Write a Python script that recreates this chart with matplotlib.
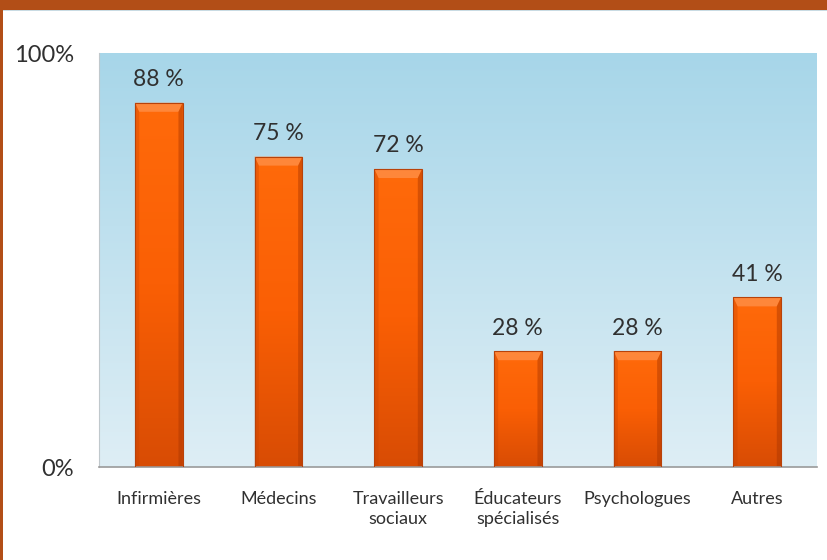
import matplotlib
matplotlib.use("Agg")
import matplotlib.pyplot as plt
import numpy as np
from matplotlib.patches import Rectangle, Polygon
from matplotlib.colors import LinearSegmentedColormap

# data
categories = ["Infirmières", "Médecins", "Travailleurs\nsociaux",
              "Éducateurs\nspécialisés", "Psychologues", "Autres"]
values = [88, 75, 72, 28, 28, 41]
value_labels = ["88 %", "75 %", "72 %", "28 %", "28 %", "41 %"]
ytick_vals = [0, 100]
ytick_labels = ["0%", "100%"]

plt.rcParams['font.family'] = ['Lato', 'DejaVu Sans']

fig = plt.figure(figsize=(8.27, 5.6), dpi=100)
fig.patch.set_facecolor("white")

# slide frame: brown band on top, thin strip on the left
fig.patches.append(Rectangle((0, 1 - 10 / 560), 1, 10 / 560, transform=fig.transFigure,
                             facecolor="#b24e17", edgecolor="none", zorder=0))
fig.patches.append(Rectangle((0, 1 - 11 / 560), 1, 1 / 560, transform=fig.transFigure,
                             facecolor="#c9dbe3", edgecolor="none", zorder=0))
fig.patches.append(Rectangle((0, 0), 3 / 827, 1, transform=fig.transFigure,
                             facecolor="#b24e17", edgecolor="none", zorder=0))

ax = fig.add_axes([99 / 827, 93 / 560, 718 / 827, 414 / 560])

# gradient plot background
bg = LinearSegmentedColormap.from_list("bg", ["#deeef5", "#a7d6e9"])
grad = np.linspace(0, 1, 256).reshape(-1, 1)
ax.imshow(grad, cmap=bg, origin="lower", extent=[0, 1, 0, 1], aspect="auto",
          transform=ax.transAxes, zorder=0)

x = np.arange(len(categories))
bars = ax.bar(x, values, width=0.4, color="none", edgecolor="#b8420a",
              linewidth=0.8, zorder=3)

bar_cmap = LinearSegmentedColormap.from_list("bar", ["#d84c04", "#fa5f05", "#ff6a0a"])
for b in bars:
    x0, w, h = b.get_x(), b.get_width(), b.get_height()
    im = ax.imshow(grad, cmap=bar_cmap, origin="lower", extent=[x0, x0 + w, 0, h],
                   aspect="auto", zorder=2)
    im.set_clip_path(b)
    # bevel: lighter top facet, darker side facets
    bh = 2.2
    bw = w * 0.09
    ax.add_patch(Polygon([[x0, h], [x0 + w, h], [x0 + w - bw, h - bh], [x0 + bw, h - bh]],
                         closed=True, facecolor="#ff9450", edgecolor="none", alpha=0.7, zorder=2.5))
    ax.add_patch(Polygon([[x0, 0], [x0, h], [x0 + bw, h - bh], [x0 + bw, 0]],
                         closed=True, facecolor="#c44000", edgecolor="none", alpha=0.3, zorder=2.5))
    ax.add_patch(Polygon([[x0 + w, 0], [x0 + w, h], [x0 + w - bw, h - bh], [x0 + w - bw, 0]],
                         closed=True, facecolor="#a83500", edgecolor="none", alpha=0.45, zorder=2.5))

for b, lab in zip(bars, value_labels):
    ax.annotate(lab, (b.get_x() + b.get_width() / 2, b.get_height()),
                xytext=(0, 9), textcoords="offset points", ha="center", va="bottom",
                fontsize=16.5, color="#303030")

ax.set_xlim(-0.5, len(categories) - 0.5)
ax.set_ylim(0, 100)
ax.set_xticks(x)
ax.set_xticklabels(categories, fontsize=13, color="#303030", linespacing=1.32)
ax.set_yticks(ytick_vals)
ax.set_yticklabels(ytick_labels, fontsize=17, color="#303030")
ax.tick_params(axis="x", length=0, pad=17)
ax.tick_params(axis="y", length=0, pad=18)

for s in ["top", "right"]:
    ax.spines[s].set_visible(False)
ax.spines["bottom"].set_color("#9a9a9a")
ax.spines["bottom"].set_linewidth(1.2)
ax.spines["left"].set_color("#c0c8cc")
ax.spines["left"].set_linewidth(0.8)

fig.savefig("out.png", dpi=100)
